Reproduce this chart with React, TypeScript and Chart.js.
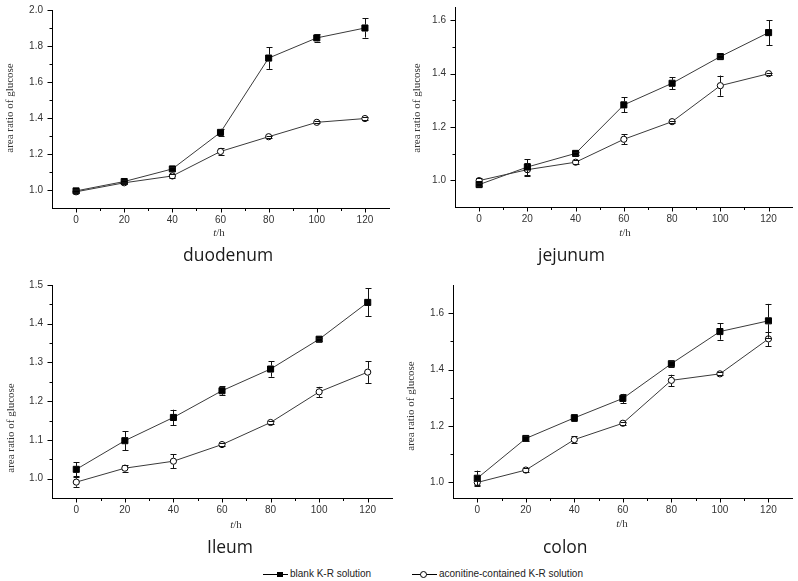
import React, { useEffect, useRef } from "react";
import { Chart, registerables } from "chart.js";

Chart.register(...registerables);

// ---------------- data ----------------
const TIMES = [0, 20, 40, 60, 80, 100, 120];
const X_TICKS = [0, 20, 40, 60, 80, 100, 120];

const SERIES_NAMES = ["blank K-R solution", "aconitine-contained K-R solution"];
const PANEL_TITLES = ["duodenum", "jejunum", "Ileum", "colon"];
const Y_TITLE = "area ratio of glucose";
const X_TITLE_ITALIC = "t";
const X_TITLE_REST = "/h";

const duodenumBlank = [0.995, 1.047, 1.117, 1.32, 1.733, 1.845, 1.9];
const duodenumBlankErr = [0.008, 0.006, 0.01, 0.02, 0.06, 0.02, 0.053];
const duodenumAcon = [0.99, 1.04, 1.078, 1.214, 1.296, 1.376, 1.397];
const duodenumAconErr = [0.008, 0.005, 0.012, 0.02, 0.006, 0.006, 0.01];

const jejunumBlank = [0.984, 1.05, 1.101, 1.283, 1.364, 1.464, 1.554];
const jejunumBlankErr = [0.006, 0.03, 0.006, 0.028, 0.023, 0.005, 0.047];
const jejunumAcon = [0.999, 1.04, 1.068, 1.154, 1.22, 1.355, 1.4];
const jejunumAconErr = [0.01, 0.025, 0.008, 0.018, 0.004, 0.038, 0.004];

const ileumBlank = [1.024, 1.098, 1.158, 1.227, 1.283, 1.36, 1.455];
const ileumBlankErr = [0.018, 0.025, 0.02, 0.012, 0.02, 0.004, 0.036];
const ileumAcon = [0.991, 1.027, 1.045, 1.088, 1.145, 1.224, 1.275];
const ileumAconErr = [0.012, 0.009, 0.018, 0.003, 0.004, 0.013, 0.028];

const colonBlank = [1.015, 1.156, 1.229, 1.298, 1.421, 1.535, 1.573];
const colonBlankErr = [0.027, 0.01, 0.012, 0.016, 0.01, 0.029, 0.06];
const colonAcon = [1.0, 1.044, 1.152, 1.21, 1.362, 1.385, 1.509];
const colonAconErr = [0.008, 0.006, 0.012, 0.005, 0.02, 0.005, 0.025];

const duodenumYTicks = [1.0, 1.2, 1.4, 1.6, 1.8, 2.0];
const jejunumYTicks = [1.0, 1.2, 1.4, 1.6];
const ileumYTicks = [1.0, 1.1, 1.2, 1.3, 1.4, 1.5];
const colonYTicks = [1.0, 1.2, 1.4, 1.6];

// ---------------- layout / style ----------------
type PanelSpec = {
  title: string;
  blank: number[]; blankErr: number[];
  acon: number[]; aconErr: number[];
  yTicks: number[]; yMin: number; yMax: number; yMinor: number;
  left: number; top: number; w: number; h: number;
  area: { left: number; top: number; right: number; bottom: number };
  titlePos: [number, number];
  xTitlePos: [number, number];
  yTitlePos: [number, number];
};

const PANELS: PanelSpec[] = [
  {
    title: PANEL_TITLES[0], blank: duodenumBlank, blankErr: duodenumBlankErr,
    acon: duodenumAcon, aconErr: duodenumAconErr,
    yTicks: duodenumYTicks, yMin: 0.9, yMax: 2.0, yMinor: 0.1,
    left: 0, top: 0, w: 400, h: 268,
    area: { left: 52, top: 10, right: 389, bottom: 208 },
    titlePos: [183, 261], xTitlePos: [219, 233], yTitlePos: [10, 108],
  },
  {
    title: PANEL_TITLES[1], blank: jejunumBlank, blankErr: jejunumBlankErr,
    acon: jejunumAcon, aconErr: jejunumAconErr,
    yTicks: jejunumYTicks, yMin: 0.9, yMax: 1.65, yMinor: 0.1,
    left: 400, top: 0, w: 398, h: 268,
    area: { left: 455, top: 7, right: 797, bottom: 207 },
    titlePos: [538, 261], xTitlePos: [625, 233], yTitlePos: [417, 108],
  },
  {
    title: PANEL_TITLES[2], blank: ileumBlank, blankErr: ileumBlankErr,
    acon: ileumAcon, aconErr: ileumAconErr,
    yTicks: ileumYTicks, yMin: 0.95, yMax: 1.5, yMinor: 0.05,
    left: 0, top: 268, w: 400, h: 294,
    area: { left: 52, top: 285, right: 392, bottom: 498 },
    titlePos: [207, 553], xTitlePos: [236, 525], yTitlePos: [11, 428],
  },
  {
    title: PANEL_TITLES[3], blank: colonBlank, blankErr: colonBlankErr,
    acon: colonAcon, aconErr: colonAconErr,
    yTicks: colonYTicks, yMin: 0.945, yMax: 1.7, yMinor: 0.1,
    left: 400, top: 268, w: 398, h: 294,
    area: { left: 453, top: 285, right: 797, bottom: 498 },
    titlePos: [543, 553], xTitlePos: [622, 524], yTitlePos: [411, 406],
  },
];

const X_MIN = -10;
const X_MAX = 130;
const X_MINOR = 10;
const TICK_FONT = "Liberation Sans";
const SERIF = "Liberation Serif";
const LABEL_COLOR = "#333";
const LINE_COLOR = "#3a3a3a";

function minorValues(min: number, max: number, step: number): number[] {
  const out: number[] = [];
  const k0 = Math.ceil(min / step - 1e-6);
  const k1 = Math.floor(max / step + 1e-6);
  for (let k = k0; k <= k1; k++) {
    const v = +(k * step).toFixed(6);
    if (Math.abs(v - min) < 1e-6 || Math.abs(v - max) < 1e-6) continue;
    out.push(v);
  }
  return out;
}

function Panel({ spec }: { spec: PanelSpec }) {
  const ref = useRef<HTMLCanvasElement>(null);

  useEffect(() => {
    const canvas = ref.current;
    if (!canvas) return;
    const ox = spec.left;
    const oy = spec.top;
    const MARK_R = 3.4;

    const decor = {
      id: "decor" + spec.title,
      afterDatasetsDraw(chart: any) {
        const ctx = chart.ctx;
        const ys = chart.scales.y;
        ctx.save();
        ctx.strokeStyle = "#111";
        ctx.lineWidth = 1;
        chart.data.datasets.forEach((ds: any, i: number) => {
          const meta = chart.getDatasetMeta(i);
          meta.data.forEach((pt: any, j: number) => {
            const v = ds.data[j].y;
            const e = ds.errors[j];
            const x = Math.round(pt.x) + 0.5;
            const yc = pt.y;
            const yt = ys.getPixelForValue(v + e);
            const yb = ys.getPixelForValue(v - e);
            ctx.beginPath();
            if (yc - yt > MARK_R) {
              ctx.moveTo(x, yt);
              ctx.lineTo(x, yc - MARK_R);
            }
            if (yb - yc > MARK_R) {
              ctx.moveTo(x, yc + MARK_R);
              ctx.lineTo(x, yb);
            }
            const yt2 = Math.round(yt) + 0.5;
            const yb2 = Math.round(yb) + 0.5;
            ctx.moveTo(x - 3, yt2);
            ctx.lineTo(x + 3, yt2);
            ctx.moveTo(x - 3, yb2);
            ctx.lineTo(x + 3, yb2);
            ctx.stroke();
          });
        });
        ctx.restore();
      },
      afterDraw(chart: any) {
        const ctx = chart.ctx;
        const ca = chart.chartArea;
        const xs = chart.scales.x;
        const ys = chart.scales.y;
        ctx.save();
        ctx.strokeStyle = "#000";
        ctx.lineWidth = 1;
        ctx.beginPath();
        // y ticks
        const yMaj = spec.yTicks;
        const yMin = minorValues(spec.yMin, spec.yMax, spec.yMinor).filter(
          (v) => !yMaj.some((m) => Math.abs(m - v) < 1e-6)
        );
        const lx = Math.round(ca.left) + 0.5;
        yMaj.forEach((v) => {
          const y = Math.round(ys.getPixelForValue(v)) + 0.5;
          ctx.moveTo(lx - 5, y);
          ctx.lineTo(lx, y);
        });
        yMin.forEach((v) => {
          const y = Math.round(ys.getPixelForValue(v)) + 0.5;
          ctx.moveTo(lx - 3, y);
          ctx.lineTo(lx, y);
        });
        // x ticks
        const by = Math.round(ca.bottom) + 0.5;
        const xMin = minorValues(X_MIN, X_MAX, X_MINOR).filter(
          (v) => !X_TICKS.includes(v)
        );
        X_TICKS.forEach((v) => {
          const x = Math.round(xs.getPixelForValue(v)) + 0.5;
          ctx.moveTo(x, by);
          ctx.lineTo(x, by + 4);
        });
        xMin.forEach((v) => {
          const x = Math.round(xs.getPixelForValue(v)) + 0.5;
          ctx.moveTo(x, by);
          ctx.lineTo(x, by + 2.5);
        });
        ctx.stroke();

        // y title
        ctx.fillStyle = "#333";
        ctx.font = `11px "${SERIF}"`;
        ctx.textAlign = "center";
        ctx.textBaseline = "middle";
        ctx.save();
        ctx.translate(spec.yTitlePos[0] - ox, spec.yTitlePos[1] - oy);
        ctx.rotate(-Math.PI / 2);
        ctx.fillText(Y_TITLE, 0, 0);
        ctx.restore();

        // x title: italic t + /h
        ctx.textAlign = "left";
        ctx.textBaseline = "middle";
        ctx.font = `italic 11px "${SERIF}"`;
        const w1 = ctx.measureText(X_TITLE_ITALIC).width;
        ctx.font = `11px "${SERIF}"`;
        const w2 = ctx.measureText(X_TITLE_REST).width;
        const sx = spec.xTitlePos[0] - ox - (w1 + w2) / 2;
        const sy = spec.xTitlePos[1] - oy;
        ctx.font = `italic 11px "${SERIF}"`;
        ctx.fillText(X_TITLE_ITALIC, sx, sy);
        ctx.font = `11px "${SERIF}"`;
        ctx.fillText(X_TITLE_REST, sx + w1, sy);

        // panel title
        ctx.fillStyle = "#1a1a1a";
        ctx.font = `19px "Open Sans"`;
        ctx.textBaseline = "alphabetic";
        ctx.save();
        ctx.translate(spec.titlePos[0] - ox, spec.titlePos[1] - oy);
        ctx.scale(0.92, 1);
        ctx.fillText(spec.title, 0, 0);
        ctx.restore();
        ctx.restore();
      },
    };

    const yWidth = spec.area.left - spec.left;
    const xHeight = spec.top + spec.h - spec.area.bottom;

    const chart = new Chart(canvas, {
      type: "line",
      data: {
        datasets: [
          {
            label: SERIES_NAMES[0],
            data: TIMES.map((t, i) => ({ x: t, y: spec.blank[i] })),
            errors: spec.blankErr,
            borderColor: LINE_COLOR,
            borderWidth: 1,
            tension: 0,
            pointStyle: "rect",
            pointRadius: 4.3,
            pointBackgroundColor: "#000",
            pointBorderColor: "#000",
            pointBorderWidth: 1,
            fill: false,
          } as any,
          {
            label: SERIES_NAMES[1],
            data: TIMES.map((t, i) => ({ x: t, y: spec.acon[i] })),
            errors: spec.aconErr,
            borderColor: LINE_COLOR,
            borderWidth: 1,
            tension: 0,
            pointStyle: "circle",
            pointRadius: 3.1,
            pointBackgroundColor: "#fff",
            pointBorderColor: "#000",
            pointBorderWidth: 1,
            fill: false,
          } as any,
        ],
      },
      options: {
        responsive: false,
        animation: false,
        events: [],
        layout: {
          padding: {
            top: spec.area.top - spec.top,
            right: spec.left + spec.w - spec.area.right,
            left: 0,
            bottom: 0,
          },
        },
        plugins: {
          legend: { display: false },
          tooltip: { enabled: false },
        },
        scales: {
          x: {
            type: "linear",
            min: X_MIN,
            max: X_MAX,
            afterBuildTicks: (s: any) => {
              s.ticks = X_TICKS.map((v) => ({ value: v }));
            },
            afterFit: (s: any) => {
              s.height = xHeight;
              s.paddingLeft = 0;
              s.paddingRight = 0;
            },
            ticks: {
              autoSkip: false,
              maxRotation: 0,
              padding: 6,
              color: LABEL_COLOR,
              font: { family: TICK_FONT, size: 10 },
              callback: (v: any) => String(v),
            },
            grid: { drawOnChartArea: false, drawTicks: false },
            border: { display: true, color: "#000", width: 1 },
          },
          y: {
            type: "linear",
            min: spec.yMin,
            max: spec.yMax,
            afterBuildTicks: (s: any) => {
              s.ticks = spec.yTicks.map((v) => ({ value: v }));
            },
            afterFit: (s: any) => {
              s.width = yWidth;
              s.paddingTop = 0;
              s.paddingBottom = 0;
            },
            ticks: {
              autoSkip: false,
              padding: 9,
              color: LABEL_COLOR,
              font: { family: TICK_FONT, size: 10 },
              callback: (v: any) => Number(v).toFixed(1),
            },
            grid: { drawOnChartArea: false, drawTicks: false },
            border: { display: true, color: "#000", width: 1 },
          },
        },
      } as any,
      plugins: [decor],
    });

    return () => chart.destroy();
  }, [spec]);

  return (
    <canvas
      ref={ref}
      width={spec.w}
      height={spec.h}
      style={{
        position: "absolute",
        left: spec.left,
        top: spec.top,
        width: spec.w,
        height: spec.h,
      }}
    />
  );
}

const legendText: React.CSSProperties = {
  position: "absolute",
  top: 567,
  fontFamily: "'Liberation Sans', Arial, sans-serif",
  fontSize: 10,
  lineHeight: "14px",
  color: "#222",
  whiteSpace: "pre",
};

export default function App() {
  return (
    <div
      style={{
        position: "absolute",
        left: 0,
        top: 0,
        width: 798,
        height: 581,
        background: "#fff",
        overflow: "hidden",
      }}
    >
      {PANELS.map((p) => (
        <Panel key={p.title} spec={p} />
      ))}
      {/* legend */}
      <div style={{ position: "absolute", left: 263, top: 574, width: 25, height: 1, background: "#000" }} />
      <div style={{ position: "absolute", left: 277, top: 572, width: 6, height: 5, background: "#000" }} />
      <div style={{ ...legendText, left: 290 }}>{SERIES_NAMES[0]}</div>
      <div style={{ position: "absolute", left: 412, top: 574, width: 25, height: 1, background: "#000" }} />
      <div
        style={{
          position: "absolute",
          left: 420,
          top: 571,
          width: 5,
          height: 5,
          borderRadius: "50%",
          border: "1px solid #000",
          background: "#fff",
        }}
      />
      <div style={{ ...legendText, left: 439 }}>{SERIES_NAMES[1]}</div>
    </div>
  );
}
